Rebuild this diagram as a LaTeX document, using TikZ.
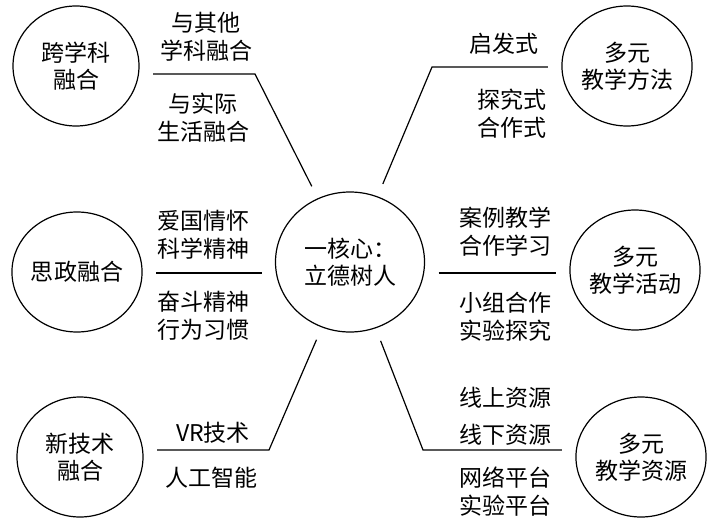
\documentclass[tikz,border=0pt]{standalone}
\usepackage{fontspec}
\usepackage{tikz}
\usetikzlibrary{shapes.geometric, positioning, calc}
\newfontfamily\cjk{Noto Sans CJK SC}

\begin{document}
\begin{tikzpicture}[
    x=0.5pt, y=-0.5pt,
    hub/.style={ellipse, draw, line width=0.6pt, minimum width=74.5pt, minimum height=70pt, inner sep=0pt, outer sep=7pt, align=left, font=\cjk\fontsize{11.5}{13.5}\selectfont},
    topic/.style={ellipse, draw, line width=0.6pt, minimum width=63pt, minimum height=60pt, inner sep=0pt, outer sep=7pt, align=center, font=\cjk\fontsize{11.5}{13.5}\selectfont},
    item/.style={align=center, inner sep=0pt, font=\cjk\fontsize{11.5}{14}\selectfont},
    spoke/.style={line width=0.6pt}
]
\useasboundingbox (0,0) rectangle (711,519);

% Nodes
\node[hub] (core) at (350,262) {一核心：\\立德树人};

\node[topic] (kxk) at (76,66) {跨学科\\融合};
\node[topic] (szrh) at (77,272) {思政融合};
\node[topic] (xjs) at (80,457) {新技术\\融合};

\node[topic] (jxff) at (627,66) {多元\\教学方法};
\node[topic] (jxhd) at (635,270) {多元\\教学活动};
\node[topic] (jxzy) at (641,457) {多元\\教学资源};

% Branch labels
\node[item] (qtxk) at (206,37) {与其他\\学科融合};
\node[item] (sjsh) at (203,118) {与实际\\生活融合};
\node[item] (agqh) at (203,235) {爱国情怀\\科学精神};
\node[item] (fdjs) at (203,316) {奋斗精神\\行为习惯};
\node[item] (vrjs) at (213,433) {VR技术};
\node[item] (rgzn) at (211,478) {人工智能};

\node[item] (qfs) at (504,44) {启发式};
\node[item] (tjs) at (512,114) {探究式\\合作式};
\node[item] (alxx) at (505,232) {案例教学\\合作学习};
\node[item] (xzhz) at (505,317) {小组合作\\实验探究};
\node[item] (xszy) at (505,416) {线上资源\\[4.5pt]线下资源};
\node[item] (wlpt) at (505,492) {网络平台\\实验平台};

% Bends
\coordinate (tlbend) at (255,74);
\coordinate (lrow) at (200,273);
\coordinate (blbend) at (269,450);
\coordinate (trbend) at (432,67);
\coordinate (rrow) at (500,273);
\coordinate (brbend) at (423,450);

% Lines
\draw[spoke] (core) -- (tlbend) -- (kxk.east |- tlbend);
\draw[spoke] (szrh.east |- lrow) -- (core.west |- lrow);
\draw[spoke] (core) -- (blbend) -- (xjs.east |- blbend);
\draw[spoke] (core) -- (trbend) -- (jxff.west |- trbend);
\draw[spoke] (core.east |- rrow) -- (jxhd.west |- rrow);
\draw[spoke] (core) -- (brbend) -- (jxzy.west |- brbend);

\end{tikzpicture}
\end{document}
